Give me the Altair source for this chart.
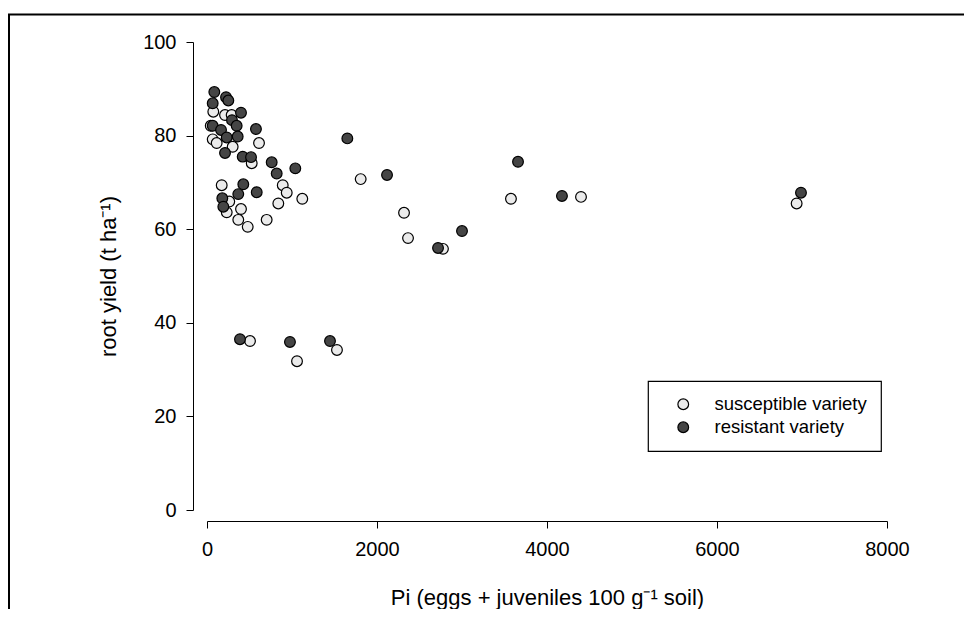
import altair as alt
import pandas as pd

# susceptible variety
sus_x = [74, 212, 290, 44, 67, 114, 302, 612, 526, 173, 891, 938, 1121, 262, 839,
         232, 400, 368, 479, 702, 1808, 2318, 2365, 2776, 3576, 4400, 6937, 506, 1059, 1529]
sus_y = [85.1, 84.4, 84.4, 82.1, 79.2, 78.4, 77.6, 78.4, 74.1, 69.4, 69.4, 67.8, 66.5, 65.9, 65.5,
         63.6, 64.3, 62.0, 60.5, 62.0, 70.7, 63.5, 58.1, 55.8, 66.5, 66.9, 65.5, 36.1, 31.8, 34.2]

# resistant variety
res_x = [86, 224, 251, 67, 400, 67, 294, 349, 165, 576, 232, 361, 212, 420, 518, 761, 820,
         1039, 1651, 427, 368, 585, 180, 192, 2118, 2718, 3000, 3659, 4176, 6988, 388, 976, 1447]
res_y = [89.3, 88.2, 87.5, 86.9, 84.9, 82.1, 83.3, 82.1, 81.2, 81.4, 79.6, 79.8, 76.3, 75.5, 75.4,
         74.3, 71.9, 73.0, 79.4, 69.6, 67.5, 67.9, 66.6, 64.8, 71.6, 56.0, 59.6, 74.4, 67.1, 67.8,
         36.5, 35.9, 36.1]

categories = ["susceptible variety", "resistant variety"]
x_ticks = [0, 2000, 4000, 6000, 8000]
y_ticks = [0, 20, 40, 60, 80, 100]

df = pd.DataFrame({
    "Pi": sus_x + res_x,
    "yield": sus_y + res_y,
    "variety": [categories[0]] * len(sus_x) + [categories[1]] * len(res_x),
    "ord": list(range(len(sus_x) + len(res_x))),
})

FONT = "Liberation Sans, Arial, Helvetica, sans-serif"

points = alt.Chart(df).mark_circle(
    size=115, stroke="black", strokeWidth=1.2, opacity=1
).encode(
    x=alt.X("Pi:Q",
            scale=alt.Scale(domain=[0, 8000], nice=False),
            axis=alt.Axis(values=x_ticks, format="d", title="Pi (eggs + juveniles 100 g⁻¹ soil)",
                          offset=11, tickSize=7, labelPadding=11, titlePadding=28,
                          labelFlush=False, grid=False)),
    y=alt.Y("yield:Q",
            scale=alt.Scale(domain=[0, 100], nice=False),
            axis=alt.Axis(values=y_ticks, format="d", title="root yield (t ha⁻¹)",
                          offset=14, tickSize=7, labelPadding=10, titlePadding=22,
                          grid=False)),
    fill=alt.Fill("variety:N",
                  scale=alt.Scale(domain=categories, range=["#ebebeb", "#454545"]),
                  legend=alt.Legend(title=None, orient="none", legendX=441, legendY=339,
                                    rowPadding=4, labelOffset=22, symbolOffset=12,
                                    symbolType="circle", symbolSize=115,
                                    symbolStrokeColor="black", symbolStrokeWidth=1.2,
                                    symbolOpacity=1, labelFontSize=18.5, labelFont=FONT,
                                    labelColor="black")),
    order=alt.Order("ord:Q"),
)

frame_df = pd.DataFrame({"a": [0]})
frame_left = alt.Chart(frame_df).mark_rule(color="black", strokeWidth=2).encode(
    x=alt.value(-198), y=alt.value(-28), y2=alt.value(570))
frame_top = alt.Chart(frame_df).mark_rule(color="black", strokeWidth=2).encode(
    x=alt.value(-199), x2=alt.value(760), y=alt.value(-27.5))

chart = alt.layer(points, frame_left, frame_top).properties(
    width=680, height=468,
    autosize=alt.AutoSizeParams(type="none"),
    padding={"left": 199, "top": 34, "right": 77, "bottom": 99},
).configure_view(stroke=None).configure_axis(
    domainColor="black", domainWidth=1, tickColor="black", tickWidth=1,
    labelFont=FONT, labelFontSize=20, labelColor="black",
    titleFont=FONT, titleFontSize=22, titleFontWeight="normal", titleColor="black",
).configure_legend(
    padding=14, strokeColor="black", strokeWidth=1.2, fillColor="white",
)

chart.save("out.html", embed_options={"renderer": "svg", "actions": False})
